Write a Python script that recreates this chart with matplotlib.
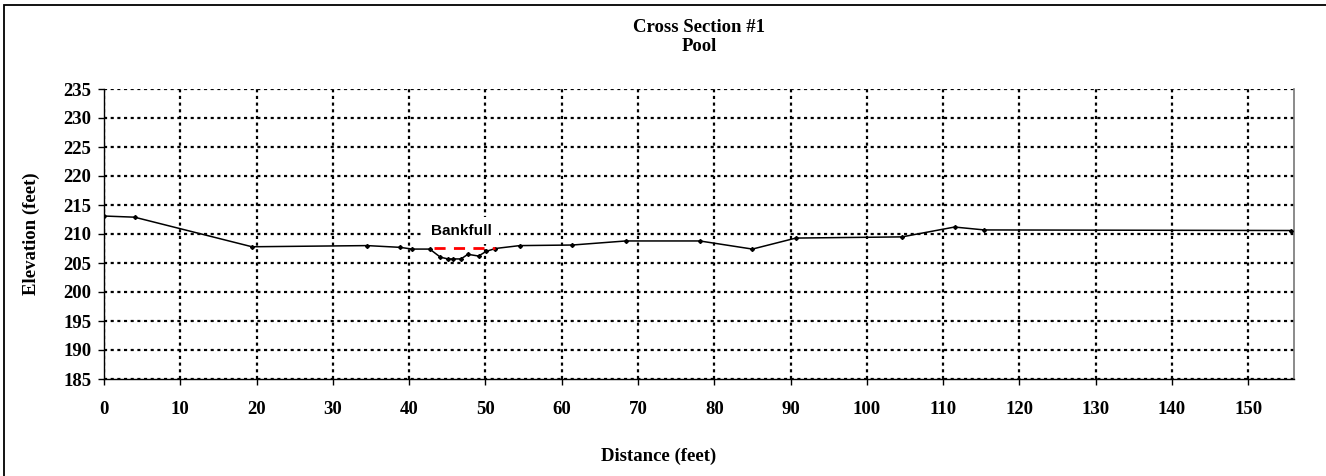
#!/usr/bin/env python3
"""Cross section #1 (pool) survey profile."""

import matplotlib
matplotlib.use("Agg")
import matplotlib.pyplot as plt
from matplotlib.patches import Rectangle

# ---------------------------------------------------------------------------
# Data
# ---------------------------------------------------------------------------

distance = [0.0, 4.0, 19.4, 34.5, 38.8, 40.4, 42.7, 44.1, 45.1, 45.8, 46.8,
            47.7, 49.1, 50.1, 51.3, 54.5, 61.4, 68.4, 78.1, 85.0, 90.7,
            104.6, 111.5, 115.4, 155.6]
elevation = [213.1, 212.9, 207.8, 208.0, 207.7, 207.4, 207.4, 206.0, 205.7,
             205.7, 205.7, 206.5, 206.2, 207.0, 207.5, 208.0, 208.1, 208.8,
             208.8, 207.4, 209.3, 209.5, 211.2, 210.7, 210.6]

bankfull_x = [43.2, 51.3]
bankfull_elev = 207.6

x_ticks = list(range(0, 151, 10))
y_ticks = list(range(185, 236, 5))

# ---------------------------------------------------------------------------
# Plot
# ---------------------------------------------------------------------------

plt.rcParams["font.family"] = ["Liberation Serif", "DejaVu Serif"]

fig = plt.figure(figsize=(13.26, 4.76), dpi=100)
ax = fig.add_axes([104 / 1326, 1 - 379 / 476, (1294 - 104) / 1326, (379 - 89) / 476])

# outer chart border (runs off the right/bottom edge like the original)
fig.patches.append(Rectangle((4 / 1326, -0.1), 1.2, 1.1 - 5 / 476, transform=fig.transFigure,
                             fill=False, edgecolor="black", linewidth=1.3))

ax.plot(distance, elevation, color="black", linewidth=1.1, marker="D",
        markersize=2.0, zorder=3)
ax.plot(bankfull_x, [bankfull_elev, bankfull_elev], color="#ff0000",
        linewidth=2.0, linestyle=(0, (4, 3)), zorder=4)
ax.text(sum(bankfull_x) / 2 - 0.4, 210.6, "Bankfull", family="Liberation Sans",
        fontweight="bold", fontsize=11, ha="center", va="center", zorder=5,
        bbox=dict(facecolor="white", edgecolor="none", pad=5))

ax.set_xlim(0, 156)
ax.set_ylim(185, 235)
ax.set_xticks(x_ticks)
ax.set_yticks(y_ticks)
ax.tick_params(axis="both", labelsize=13.5, direction="out", length=4, width=1)
ax.tick_params(axis="x", pad=12)
ax.tick_params(axis="y", pad=5)
for lbl in ax.get_xticklabels() + ax.get_yticklabels():
    lbl.set_fontweight("bold")
ax.grid(True, color="black", linestyle=(0, (1.4, 1.6)), linewidth=1.6)

ax.spines["top"].set_visible(False)
ax.spines["right"].set_color("#777777")
ax.spines["right"].set_linewidth(1.2)
ax.spines["left"].set_linewidth(1.0)
ax.spines["bottom"].set_linewidth(1.0)

fig.text(699 / 1326, 1 - 37 / 476, "Cross Section #1\nPool", ha="center", va="center",
         fontsize=13.5, fontweight="bold", linespacing=1.1)
fig.text(659 / 1326, 1 - 456 / 476, "Distance (feet)", ha="center", va="center",
         fontsize=13.5, fontweight="bold")
fig.text(31 / 1326, 1 - 234 / 476, "Elevation (feet)", ha="center", va="center",
         rotation=90, fontsize=13.5, fontweight="bold")

fig.savefig("out.png", dpi=100)
